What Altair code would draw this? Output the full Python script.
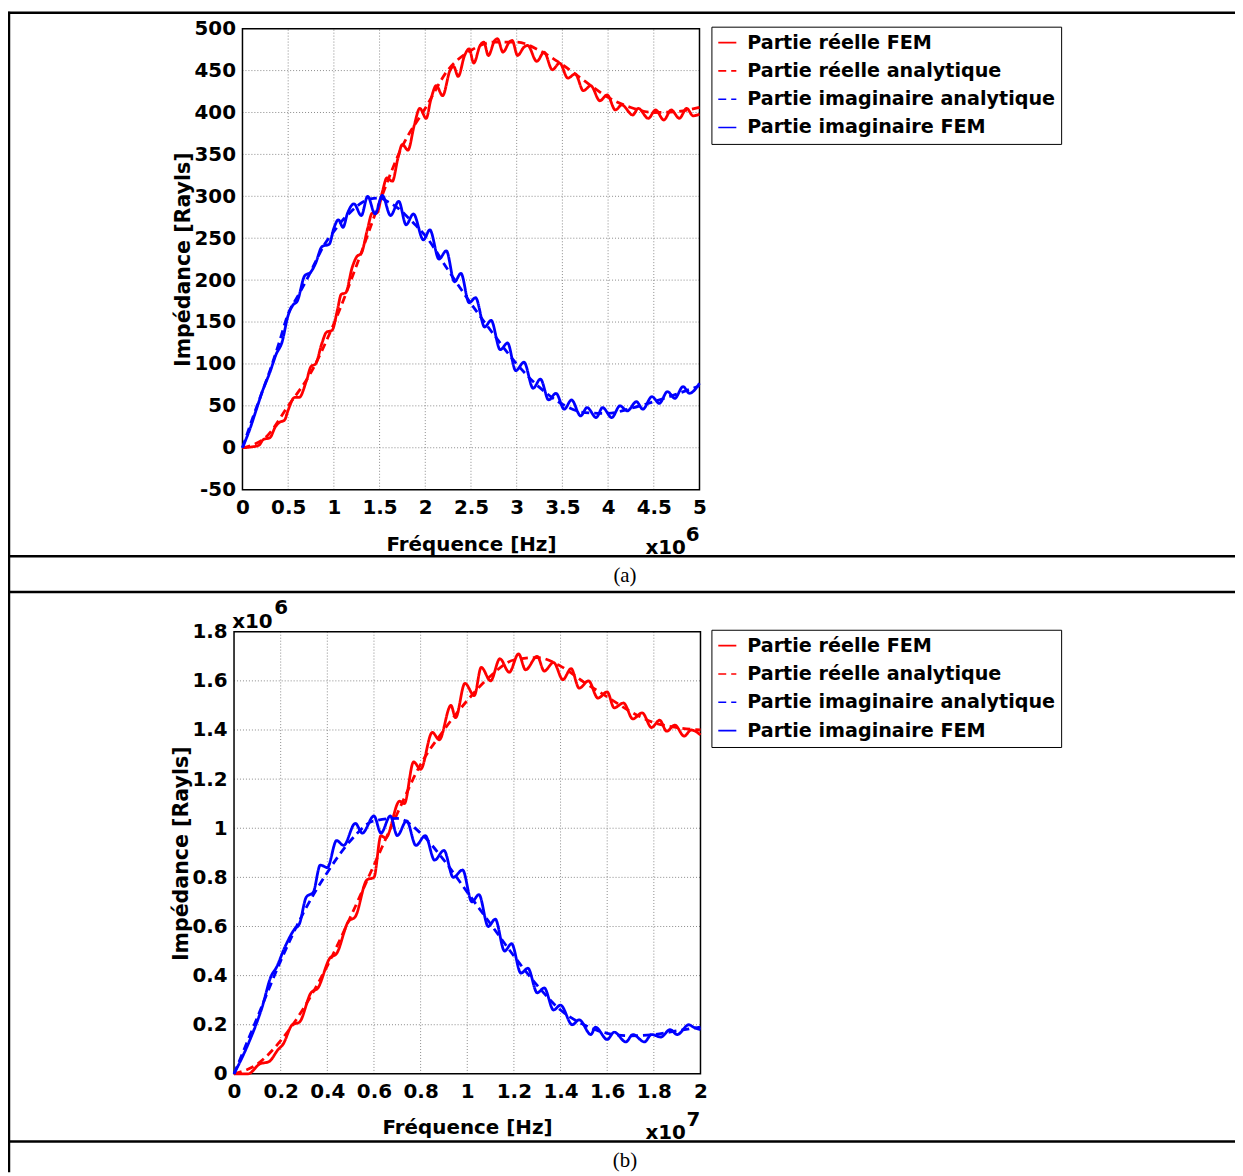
import altair as alt
import pandas as pd

# ---------------- series names / styles ----------------
SERIES = ["Partie réelle FEM", "Partie réelle analytique",
          "Partie imaginaire analytique", "Partie imaginaire FEM"]
SERIES_COLORS = ["#ff0000", "#ff0000", "#0000ff", "#0000ff"]
SERIES_DASH = [[1, 0], [8, 5], [8, 5], [1, 0]]

# ---------------- panel (a): frequency in x10^6 Hz, impedance in Rayls ----------------
a_re_fem_f = [0, 0.1, 0.18, 0.23, 0.3, 0.36, 0.4, 0.46, 0.5, 0.57,
              0.62, 0.7, 0.75, 0.8, 0.87, 0.92, 0.98, 1.04, 1.08, 1.13,
              1.2, 1.25, 1.3, 1.37, 1.42, 1.47, 1.53, 1.58, 1.64, 1.7,
              1.75, 1.81, 1.88, 1.94, 2.01, 2.06, 2.12, 2.19, 2.27, 2.31,
              2.36, 2.43, 2.48, 2.53, 2.6, 2.64, 2.69, 2.76, 2.79, 2.85,
              2.92, 2.95, 3.01, 3.08, 3.12, 3.22, 3.3, 3.39, 3.47, 3.56,
              3.64, 3.73, 3.81, 3.91, 3.99, 4.08, 4.15, 4.27, 4.33, 4.44,
              4.52, 4.61, 4.69, 4.78, 4.86, 4.93, 5.0]
a_re_fem_z = [0, 1, 3, 10, 12, 25, 30, 33, 45, 60,
              60, 80, 97, 100, 125, 138, 140, 165, 183, 185,
              215, 228, 232, 262, 280, 280, 305, 322, 318, 345,
              362, 355, 385, 405, 393, 415, 432, 420, 450, 455,
              443, 468, 476, 459, 480, 484, 468, 486, 488, 472,
              484, 486, 468, 478, 480, 461, 472, 451, 459, 441,
              446, 426, 432, 414, 421, 403, 409, 397, 405, 393,
              403, 391, 403, 393, 405, 396, 398]

a_re_ana_f = [0, 0.1, 0.25, 0.5, 0.75, 1.0, 1.25, 1.5, 1.75, 2.0, 2.25,
              2.5, 2.75, 3.0, 3.25, 3.5, 3.75, 4.0, 4.25, 4.5, 4.75, 5.0]
a_re_ana_z = [0, 3, 12, 50, 90, 148, 218, 293, 360, 405, 451,
              474, 484, 484, 474, 457, 437, 418, 406, 400, 401, 406]

a_im_ana_f = [0, 0.1, 0.2, 0.3, 0.4, 0.5, 0.6, 0.7, 0.8, 0.9, 1.0,
              1.1, 1.2, 1.3, 1.4, 1.5, 1.6, 1.7, 1.8, 1.9, 2.0,
              2.25, 2.5, 2.75, 3.0, 3.25, 3.5, 3.75, 4.0, 4.25, 4.5, 4.75, 5.0]
a_im_ana_z = [0, 32, 62, 92, 125, 160, 180, 200, 222, 243, 258,
              272, 283, 292, 297, 298, 293, 286, 276, 265, 253,
              212, 172, 135, 100, 72, 52, 42, 41, 47, 55, 64, 74]

a_im_fem_f = [0, 0.08, 0.15, 0.22, 0.3, 0.37, 0.43, 0.5, 0.55, 0.6,
              0.68, 0.75, 0.8, 0.87, 0.95, 1.0, 1.05, 1.1, 1.15, 1.22,
              1.3, 1.37, 1.45, 1.53, 1.62, 1.71, 1.79, 1.87, 1.98, 2.05,
              2.15, 2.23, 2.32, 2.39, 2.48, 2.55, 2.65, 2.72, 2.82, 2.9,
              2.99, 3.08, 3.18, 3.26, 3.35, 3.43, 3.52, 3.6, 3.7, 3.77,
              3.87, 3.94, 4.04, 4.13, 4.21, 4.31, 4.38, 4.48, 4.56, 4.65,
              4.73, 4.82, 4.89, 5.0]
a_im_fem_z = [0, 22, 45, 68, 90, 112, 125, 158, 170, 175,
              205, 210, 220, 240, 243, 262, 272, 263, 280, 291,
              277, 300, 279, 301, 277, 294, 266, 279, 248, 260,
              225, 235, 198, 208, 173, 179, 144, 152, 117, 125,
              92, 102, 71, 82, 57, 65, 46, 57, 38, 48,
              36, 48, 36, 50, 44, 55, 46, 61, 53, 67,
              59, 73, 65, 77]

a_x_ticks = [0, 0.5, 1, 1.5, 2, 2.5, 3, 3.5, 4, 4.5, 5]
a_y_ticks = [-50, 0, 50, 100, 150, 200, 250, 300, 350, 400, 450, 500]

# ---------------- panel (b): frequency in x10^7 Hz, impedance in x10^6 Rayls ----------------
b_re_fem_f = [0, 0.06, 0.11, 0.15, 0.19, 0.21, 0.25, 0.28, 0.33, 0.36,
              0.41, 0.44, 0.49, 0.52, 0.57, 0.6, 0.63, 0.65, 0.71, 0.73,
              0.77, 0.8, 0.85, 0.88, 0.93, 0.95, 0.99, 1.03, 1.06, 1.1,
              1.14, 1.18, 1.22, 1.25, 1.3, 1.33, 1.37, 1.41, 1.445, 1.48,
              1.52, 1.56, 1.6, 1.63, 1.67, 1.71, 1.75, 1.79, 1.825, 1.855,
              1.89, 1.93, 1.96, 2.0]
b_re_fem_z = [0, 0, 0.04, 0.05, 0.1, 0.12, 0.2, 0.21, 0.33, 0.35,
              0.47, 0.49, 0.62, 0.64, 0.79, 0.8, 0.97, 0.96, 1.11, 1.1,
              1.27, 1.24, 1.39, 1.36, 1.5, 1.45, 1.59, 1.54, 1.655, 1.6,
              1.69, 1.635, 1.71, 1.645, 1.7, 1.64, 1.675, 1.605, 1.65, 1.57,
              1.6, 1.53, 1.555, 1.49, 1.51, 1.445, 1.47, 1.41, 1.44, 1.395,
              1.42, 1.375, 1.4, 1.38]

b_re_ana_f = [0, 0.1, 0.2, 0.3, 0.4, 0.5, 0.6, 0.7, 0.8, 0.9, 1.0,
              1.1, 1.2, 1.3, 1.4, 1.5, 1.6, 1.7, 1.8, 1.9, 2.0]
b_re_ana_z = [0, 0.04, 0.135, 0.27, 0.44, 0.64, 0.85, 1.06, 1.26, 1.40, 1.52,
              1.62, 1.685, 1.695, 1.66, 1.595, 1.535, 1.475, 1.43, 1.41, 1.40]

b_im_ana_f = [0, 0.1, 0.2, 0.3, 0.4, 0.5, 0.6, 0.7, 0.8, 0.9, 1.0,
              1.1, 1.2, 1.3, 1.4, 1.5, 1.6, 1.7, 1.8, 1.9, 2.0]
b_im_ana_z = [0, 0.23, 0.46, 0.66, 0.82, 0.95, 1.03, 1.04, 0.98, 0.87, 0.74,
              0.61, 0.48, 0.36, 0.26, 0.2, 0.165, 0.155, 0.16, 0.175, 0.19]

b_im_fem_f = [0, 0.06, 0.12, 0.16, 0.18, 0.22, 0.26, 0.28, 0.31, 0.34,
              0.37, 0.4, 0.44, 0.47, 0.52, 0.55, 0.6, 0.63, 0.67, 0.7,
              0.74, 0.78, 0.82, 0.86, 0.9, 0.94, 0.98, 1.02, 1.05, 1.09,
              1.12, 1.16, 1.19, 1.23, 1.26, 1.3, 1.33, 1.37, 1.4, 1.45,
              1.48, 1.53, 1.55, 1.6, 1.63, 1.68, 1.71, 1.76, 1.79, 1.83,
              1.87, 1.9, 1.95, 1.97, 2.0]
b_im_fem_z = [0, 0.12, 0.27, 0.4, 0.43, 0.52, 0.59, 0.61, 0.72, 0.74,
              0.85, 0.84, 0.95, 0.93, 1.02, 0.98, 1.05, 0.98, 1.05, 0.97,
              1.03, 0.93, 0.97, 0.87, 0.91, 0.8, 0.83, 0.7, 0.73, 0.6,
              0.63, 0.5, 0.53, 0.41, 0.43, 0.33, 0.35, 0.26, 0.28, 0.2,
              0.22, 0.16, 0.19, 0.14, 0.17, 0.13, 0.16, 0.13, 0.16, 0.15,
              0.18, 0.16, 0.2, 0.19, 0.18]

b_x_ticks = [0, 0.2, 0.4, 0.6, 0.8, 1, 1.2, 1.4, 1.6, 1.8, 2]
b_y_ticks = [0, 0.2, 0.4, 0.6, 0.8, 1, 1.2, 1.4, 1.6, 1.8]

# ---------------- layout constants ----------------
FONT = "DejaVu Sans"
W, H = 1235, 1168
ONE = pd.DataFrame({"k": [0]})
HYPHEN_LABEL = "replace(datum.label, '\u2212', '-')"


def series_frame(parts):
    frames = []
    for name, f, z in parts:
        frames.append(pd.DataFrame({"f": f, "z": z, "serie": name}))
    return pd.concat(frames, ignore_index=True)


def panel(df, xdom, ydom, xpx, ypx, xticks, yticks, xfmt, yfmt, leg_xy, xtitle_xy, ytitle_xy):
    """Returns a flat list of layers; every layer carries the same explicit scales."""
    def xs():
        return alt.Scale(domain=xdom, range=xpx, nice=False, zero=False)

    def ys():
        return alt.Scale(domain=ydom, range=ypx, nice=False, zero=False)

    common = dict(grid=False, ticks=False, domain=False, labelFlush=False, labelOverlap=False,
                  labelFont=FONT, labelFontSize=20, labelFontWeight="bold", labelColor="black",
                  titleFont=FONT, titleFontWeight="bold", titleColor="black",
                  titleAlign="center", titleBaseline="middle", labelExpr=HYPHEN_LABEL)
    xaxis = alt.Axis(orient="bottom", offset=ypx[0] - H, values=xticks, format=xfmt,
                     labelPadding=8, title="Fréquence [Hz]", titleFontSize=20,
                     titleX=xtitle_xy[0], titleY=xtitle_xy[1] - ypx[0], **common)
    yaxis = alt.Axis(orient="left", offset=-xpx[0], values=yticks, format=yfmt,
                     labelPadding=7, title="Impédance [Rayls]", titleFontSize=20.7,
                     titleX=ytitle_xy[0] - xpx[0], titleY=ytitle_xy[1], **common)
    leg = alt.Legend(title=None, orient="none", legendX=leg_xy[0], legendY=leg_xy[1],
                     fillColor="white", strokeColor="black", padding=6, rowPadding=7.5,
                     labelFont=FONT, labelFontSize=19.3, labelFontWeight="bold",
                     labelColor="black", labelOffset=10, labelLimit=800,
                     symbolSize=330, symbolStrokeWidth=1.6, symbolType="stroke")

    grid_x = alt.Chart(pd.DataFrame({"v": xticks[1:-1]})).mark_rule(
        color="#8a8a8a", strokeDash=[1, 2], strokeWidth=1).encode(
        x=alt.X("v:Q", scale=xs(), axis=None),
        y=alt.YDatum(ydom[0], type="quantitative", scale=ys(), axis=None),
        y2=alt.Y2Datum(ydom[1]))
    grid_y = alt.Chart(pd.DataFrame({"v": yticks[1:-1]})).mark_rule(
        color="#8a8a8a", strokeDash=[1, 2], strokeWidth=1).encode(
        y=alt.Y("v:Q", scale=ys(), axis=None),
        x=alt.XDatum(xdom[0], type="quantitative", scale=xs(), axis=None),
        x2=alt.X2Datum(xdom[1]))
    box = alt.Chart(ONE).mark_rect(fillOpacity=0, stroke="black", strokeWidth=1.5).encode(
        x=alt.XDatum(xdom[0], type="quantitative", scale=xs(), axis=None),
        x2=alt.X2Datum(xdom[1]),
        y=alt.YDatum(ydom[0], type="quantitative", scale=ys(), axis=None),
        y2=alt.Y2Datum(ydom[1]))
    lines = alt.Chart(df).mark_line(strokeWidth=2.8, interpolate="monotone").encode(
        x=alt.X("f:Q", scale=xs(), axis=xaxis),
        y=alt.Y("z:Q", scale=ys(), axis=yaxis),
        color=alt.Color("serie:N", scale=alt.Scale(domain=SERIES, range=SERIES_COLORS), legend=leg),
        strokeDash=alt.StrokeDash("serie:N", scale=alt.Scale(domain=SERIES, range=SERIES_DASH), legend=leg),
    )
    return [grid_x, grid_y, box, lines]


def text(txt, x, y, size, font=FONT, weight="bold"):
    return alt.Chart(ONE).mark_text(text=txt, font=font, fontSize=size, fontWeight=weight,
                                    color="black", align="center", baseline="middle").encode(
        x=alt.value(x), y=alt.value(y))


def hline(y):
    return alt.Chart(ONE).mark_rule(color="black", strokeWidth=2.5).encode(
        x=alt.value(0), x2=alt.value(W), y=alt.value(y))


df_a = series_frame([(SERIES[0], a_re_fem_f, a_re_fem_z), (SERIES[1], a_re_ana_f, a_re_ana_z),
                     (SERIES[2], a_im_ana_f, a_im_ana_z), (SERIES[3], a_im_fem_f, a_im_fem_z)])
df_b = series_frame([(SERIES[0], b_re_fem_f, b_re_fem_z), (SERIES[1], b_re_ana_f, b_re_ana_z),
                     (SERIES[2], b_im_ana_f, b_im_ana_z), (SERIES[3], b_im_fem_f, b_im_fem_z)])

layers_a = panel(df_a, [0, 5], [-50, 500], [236, 696], [481, 17], a_x_ticks, a_y_ticks,
                 "~g", "d", (708, 15), (466, 536), (177, 249))
layers_b = panel(df_b, [0, 2], [0, 1.8], [227.5, 697], [1069, 624], b_x_ticks, b_y_ticks,
                 "~g", "~g", (708, 622), (462, 1123), (175, 847))

deco = [
    text("x10", 662, 540, 20), text("6", 689, 527, 20),
    text("x10", 246, 614, 20), text("6", 275, 600, 20),
    text("x10", 662, 1129, 20), text("7", 690, 1115, 20),
    text("(a)", 621, 568, 21, font="Liberation Serif", weight="normal"),
    text("(b)", 621, 1157, 21, font="Liberation Serif", weight="normal"),
    hline(1), hline(548), hline(584), hline(1137),
    alt.Chart(ONE).mark_rule(color="black", strokeWidth=2.5).encode(
        x=alt.value(1), y=alt.value(0), y2=alt.value(H)),
]

chart = alt.layer(*layers_a, *layers_b, *deco).resolve_scale(
    x="independent", y="independent", color="independent", strokeDash="independent"
).resolve_axis(x="independent", y="independent").resolve_legend(
    color="independent", strokeDash="independent"
).properties(
    width=W, height=H, padding=0, autosize=alt.AutoSizeParams(type="none"),
    background="white"
).configure_view(strokeWidth=0)

chart.save("out.html", embed_options={"renderer": "svg", "actions": False})
